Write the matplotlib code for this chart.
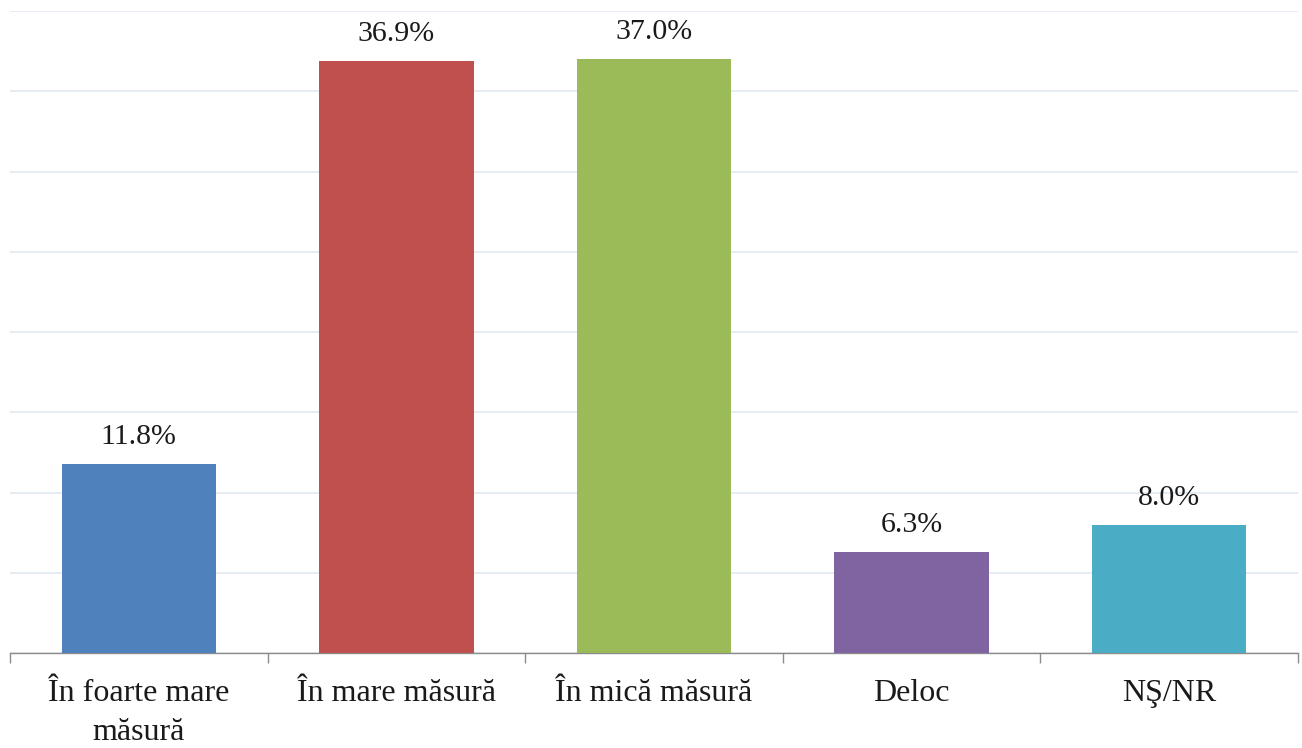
import numpy as np
import matplotlib.pyplot as plt

# data
categories = ['În foarte mare\nmăsură', 'În mare măsură', 'În mică măsură', 'Deloc', 'NŞ/NR']
values = [11.8, 36.9, 37.0, 6.3, 8.0]
labels = ['11.8%', '36.9%', '37.0%', '6.3%', '8.0%']
colors = ['#4F81BD', '#C0504D', '#9BBB59', '#8064A2', '#4BACC6']

plt.rcParams['font.family'] = ['Liberation Serif', 'DejaVu Serif']

fig = plt.figure(figsize=(13.02, 7.48), dpi=100)
ax = fig.add_axes([10/1302, (748-653)/748, 1288/1302, 642/748])

x = np.arange(len(categories))
bars = ax.bar(x, values, width=0.6, color=colors, zorder=3)

for b, lab in zip(bars, labels):
    ax.annotate(lab, (b.get_x() + b.get_width()/2, b.get_height()),
                xytext=(0, 10), textcoords='offset points',
                ha='center', va='bottom', fontsize=21.5, color='#1a1a1a')

ax.set_xlim(-0.5, len(categories) - 0.5)
ax.set_ylim(0, 40)
ax.set_yticks(np.arange(0, 41, 5))
ax.yaxis.grid(True, color='#E4EAF2', linewidth=1.3, zorder=0)
ax.tick_params(axis='y', left=False, labelleft=False)

ax.set_xticks(x)
ax.set_xticklabels(categories, fontsize=23, color='#1a1a1a', linespacing=1.45)
ax.set_xticks(np.arange(-0.5, len(categories)), minor=True)
ax.tick_params(axis='x', which='major', length=0, pad=19)
ax.tick_params(axis='x', which='minor', length=7, color='#8C8C8C', width=1)

for s in ['top', 'right', 'left']:
    ax.spines[s].set_visible(False)
ax.spines['bottom'].set_color('#8C8C8C')
ax.spines['bottom'].set_linewidth(1)

fig.savefig('out.png', dpi=100)
